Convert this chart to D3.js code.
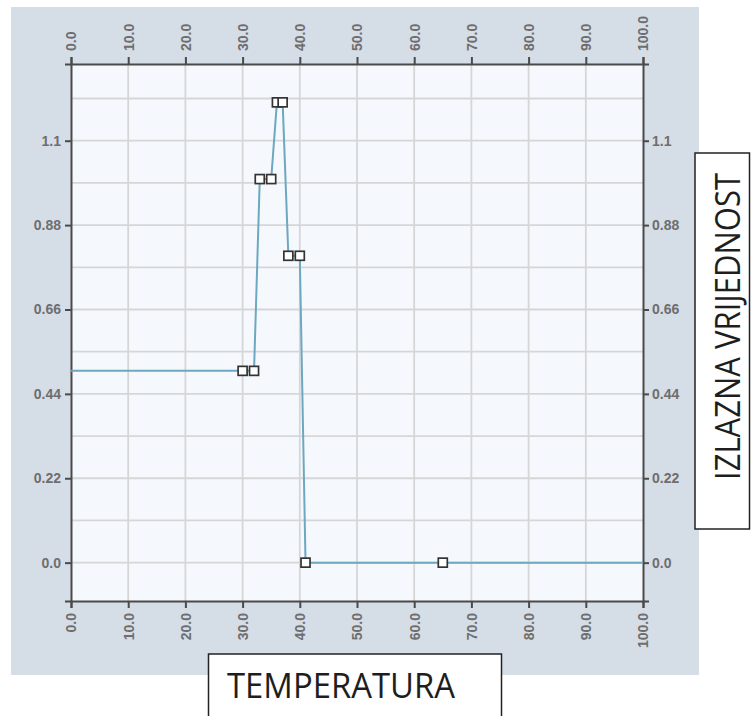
<!DOCTYPE html>
<html>
<head>
<meta charset="utf-8">
<script src="https://cdn.jsdelivr.net/npm/d3@7"></script>
<style>
	body { margin: 0; background: #fff; }
	svg { display: block; }
	.axis text { font-family: "Liberation Sans", Arial, sans-serif; font-size: 14px; font-weight: bold; fill: #6e6e6e; }
	.axis path, .axis line { stroke: #4a4a4a; stroke-width: 2; }
	.grid line { stroke: #d6d6d6; stroke-width: 1.8; }
	.lbl { font-family: "Open Sans", sans-serif; font-size: 34px; fill: #1e1e1e; }
</style>
</head>
<body>
<div id="vis"></div>
<script>
var temps = [0, 30, 32, 33, 35, 36, 37, 38, 40, 41, 65, 100];
var outputs = [0.5, 0.5, 0.5, 1.0, 1.0, 1.2, 1.2, 0.8, 0.8, 0.0, 0.0, 0.0];
var xTicks = [0, 10, 20, 30, 40, 50, 60, 70, 80, 90, 100];
var xTickLabels = ['0.0', '10.0', '20.0', '30.0', '40.0', '50.0', '60.0', '70.0', '80.0', '90.0', '100.0'];
var yTicks = [0, 0.22, 0.44, 0.66, 0.88, 1.1];
var yTickLabels = ['0.0', '0.22', '0.44', '0.66', '0.88', '1.1'];
var yGrid = [0, 0.11, 0.22, 0.33, 0.44, 0.55, 0.66, 0.77, 0.88, 0.99, 1.1, 1.21];
var xTitle = 'TEMPERATURA';
var yTitle = 'IZLAZNA VRIJEDNOST';

var width = 751, height = 716;
var margin = { top: 64, bottom: 115, left: 71, right: 108 };
var svg = d3.select('#vis').append('svg').attr('width', width).attr('height', height);

// grey panel + plot background
svg.append('rect').attr('x', 11).attr('y', 7).attr('width', 688).attr('height', 668).attr('fill', '#d5dde7');
var pw = width - margin.left - margin.right;
var ph = height - margin.top - margin.bottom;
var g = svg.append('g').attr('transform', 'translate(' + margin.left + ',' + margin.top + ')');
g.append('rect').attr('width', pw).attr('height', ph).attr('fill', '#f5f9fd');

var x_scale = d3.scaleLinear().domain([0, 100]).range([0, pw]);
var y_scale = d3.scaleLinear().domain([-0.1, 1.3]).range([ph, 0]);

var grid = g.append('g').attr('class', 'grid');
grid.selectAll('.vg').data(xTicks.slice(1, -1)).enter().append('line')
	.attr('x1', function(d) { return x_scale(d); }).attr('x2', function(d) { return x_scale(d); })
	.attr('y1', 0).attr('y2', ph);
grid.selectAll('.hg').data(yGrid).enter().append('line')
	.attr('y1', function(d) { return y_scale(d); }).attr('y2', function(d) { return y_scale(d); })
	.attr('x1', 0).attr('x2', pw);

// axes
var fmtX = function(d, i) { return xTickLabels[i]; };
var fmtY = function(d, i) { return yTickLabels[i]; };
var top_axis = g.append('g').attr('class', 'axis').call(d3.axisTop(x_scale).tickValues(xTicks).tickFormat(fmtX).tickSizeOuter(0).tickSize(7));
top_axis.selectAll('text').attr('transform', 'rotate(-90)').attr('x', 13).attr('y', 0).attr('dy', '0.35em').style('text-anchor', 'start');
var bottom_axis = g.append('g').attr('class', 'axis').attr('transform', 'translate(0,' + ph + ')')
	.call(d3.axisBottom(x_scale).tickValues(xTicks).tickFormat(fmtX).tickSizeOuter(0).tickSize(7));
bottom_axis.selectAll('text').attr('transform', 'rotate(-90)').attr('x', -12).attr('y', 0).attr('dy', '0.35em').style('text-anchor', 'end');
var left_axis = g.append('g').attr('class', 'axis').call(d3.axisLeft(y_scale).tickValues(yTicks).tickFormat(fmtY).tickSizeOuter(0).tickSize(6));
left_axis.selectAll('text').attr('x', -10);
var right_axis = g.append('g').attr('class', 'axis').attr('transform', 'translate(' + pw + ',0)')
	.call(d3.axisRight(y_scale).tickValues(yTicks).tickFormat(fmtY).tickSizeOuter(0).tickSize(6));
right_axis.selectAll('text').attr('x', 9);

// series line
var pts = temps.map(function(t, i) { return [t, outputs[i]]; });
var line = d3.line().x(function(d) { return x_scale(d[0]); }).y(function(d) { return y_scale(d[1]); });
g.append('path').datum(pts).attr('d', line).attr('fill', 'none').attr('stroke', '#6ea7c0').attr('stroke-width', 2);

// markers (not on the two end points)
g.selectAll('.marker').data(pts.slice(1, -1)).enter().append('rect').attr('class', 'marker')
	.attr('x', function(d) { return x_scale(d[0]) - 4.5; })
	.attr('y', function(d) { return y_scale(d[1]) - 4.5; })
	.attr('width', 9).attr('height', 9)
	.attr('fill', '#fff').attr('stroke', '#333').attr('stroke-width', 1.7);

// axis title boxes
svg.append('rect').attr('x', 208.5).attr('y', 654).attr('width', 293).attr('height', 90)
	.attr('fill', '#fff').attr('stroke', '#222').attr('stroke-width', 1.5);
svg.append('text').attr('class', 'lbl').attr('x', 227).attr('y', 698)
	.attr('textLength', 228).attr('lengthAdjust', 'spacingAndGlyphs').text(xTitle);
svg.append('rect').attr('x', 695).attr('y', 153).attr('width', 54.5).attr('height', 376)
	.attr('fill', '#fff').attr('stroke', '#222').attr('stroke-width', 1.5);
svg.append('text').attr('class', 'lbl').attr('transform', 'translate(740,480) rotate(-90)')
	.attr('textLength', 307).attr('lengthAdjust', 'spacingAndGlyphs').text(yTitle);
</script>
</body>
</html>
